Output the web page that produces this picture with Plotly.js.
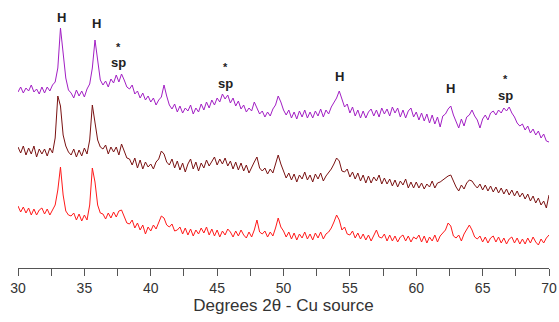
<!DOCTYPE html>
<html>
<head>
<meta charset="utf-8">
<script src="https://cdn.plot.ly/plotly-3.0.1.min.js"></script>
<style>
  html, body { margin: 0; padding: 0; background: #fff; }
  #plot { width: 559px; height: 322px; }
</style>
</head>
<body>
<div id="plot"></div>
<script>
// XRD scans, 30-70 degrees 2theta, 0.2 degree step, stacked with vertical offsets (a.u.)
const scanStart = 30;
const scanStep = 0.2;

const sampleTop = [
  176,181,175,180,177,183,176,179,174,181,
  175,181,177,183,186,200,240,214,190,178,
  175,170,178,172,177,171,179,184,200,228,
  206,188,183,187,181,189,185,193,186,194,
  188,181,179,183,174,177,170,175,168,172,
  166,170,163,168,171,183,172,163,159,164,
  156,162,155,160,157,163,154,160,156,164,
  158,166,160,168,163,170,166,174,169,173,
  165,170,162,167,159,163,156,160,157,166,
  160,154,157,151,156,152,159,163,172,166,
  158,153,158,150,156,149,157,151,158,150,
  156,150,157,152,159,151,158,154,161,165,
  170,177,168,161,164,155,161,152,158,150,
  157,150,156,159,152,158,151,160,154,159,
  152,161,155,160,151,158,150,157,160,151,
  156,148,155,147,154,145,153,144,151,141,
  152,154,159,162,153,146,140,149,142,151,
  153,158,152,148,140,149,153,148,155,157,
  153,158,155,160,157,161,155,151,145,142,
  144,138,142,135,139,133,137,130,134,127,
  126
];

const sampleMiddle = [
  121,115,122,113,120,114,122,111,119,114,
  119,112,120,115,130,172,162,133,122,116,
  113,119,111,118,112,120,114,128,163,145,
  128,121,119,123,114,121,116,121,113,124,
  117,110,109,103,110,100,108,99,106,101,
  104,99,106,109,117,114,106,103,109,100,
  107,98,105,96,104,109,99,106,97,105,
  100,108,102,107,111,103,109,104,110,102,
  107,99,106,98,105,97,103,95,101,106,
  111,100,97,100,94,99,95,105,113,104,
  97,90,95,88,94,86,93,89,96,88,
  93,86,94,89,95,87,92,95,99,104,
  110,107,97,96,99,91,96,89,95,87,
  93,85,92,85,91,87,93,84,90,84,
  89,82,88,81,87,83,89,80,86,80,
  86,80,85,79,84,81,87,80,85,86,
  88,90,92,93,86,81,77,83,79,85,
  88,87,83,80,84,78,83,77,82,76,
  81,75,80,74,79,73,78,72,77,71,
  75,69,74,67,72,65,70,63,67,60,
  73
];

const sampleBottom = [
  62,56,61,55,60,53,59,53,58,60,
  54,59,53,58,63,78,101,73,57,53,
  52,55,48,54,47,53,48,63,100,86,
  63,55,54,49,55,50,56,51,57,58,
  51,45,44,48,40,45,38,43,34,41,
  37,43,39,46,52,50,43,41,44,37,
  38,41,34,40,33,39,32,38,34,40,
  35,41,33,39,32,38,31,37,33,39,
  36,31,37,32,38,33,30,36,31,38,
  48,36,34,37,31,36,32,40,50,41,
  37,31,36,29,35,28,34,30,36,29,
  34,28,35,30,36,29,34,36,40,46,
  53,48,38,41,34,33,37,30,35,29,
  34,28,33,27,32,38,31,30,34,27,
  33,27,32,26,31,33,27,32,26,31,
  29,33,26,32,25,31,27,33,26,32,
  35,38,45,42,32,30,33,27,34,38,
  43,38,31,29,32,26,31,25,30,32,
  26,31,25,30,24,29,31,25,30,24,
  29,24,30,25,31,26,23,29,25,30,
  33
];

const tickValues = [30, 35, 40, 45, 50, 55, 60, 65, 70];
const tickLabels = ["30", "35", "40", "45", "50", "55", "60", "65", "70"];

// phase markers: H = hematite, * sp = spinel
const peakLabels = [
  { x: 33.3,  y: 251, text: "H" },
  { x: 35.95, y: 245, text: "H" },
  { x: 37.55, y: 221, text: "*" },
  { x: 37.55, y: 206, text: "sp" },
  { x: 45.65, y: 201, text: "*" },
  { x: 45.65, y: 185, text: "sp" },
  { x: 54.25, y: 192, text: "H" },
  { x: 62.6,  y: 180, text: "H" },
  { x: 66.75, y: 189, text: "*" },
  { x: 66.75, y: 173, text: "sp" }
];

function scan(values, color) {
  return {
    type: "scatter",
    mode: "lines",
    x0: scanStart,
    dx: scanStep,
    y: values,
    line: { color: color, width: 1 },
    hoverinfo: "skip",
    showlegend: false
  };
}

const data = [
  scan(sampleTop, "#a21fc4"),
  scan(sampleMiddle, "#7a1212"),
  scan(sampleBottom, "#ff1a1a")
];

const layout = {
  width: 559,
  height: 322,
  margin: { l: 18, r: 10, t: 0, b: 54 },
  paper_bgcolor: "#ffffff",
  plot_bgcolor: "#ffffff",
  font: { family: "Liberation Sans, Arial, sans-serif", color: "#333" },
  xaxis: {
    range: [30, 70],
    showgrid: false,
    zeroline: false,
    showline: true,
    linecolor: "#555",
    linewidth: 1,
    ticks: "outside",
    ticklen: 7,
    tickcolor: "#555",
    tickvals: tickValues,
    ticktext: tickLabels,
    tickfont: { size: 14, color: "#333" },
    minor: { dtick: 2.5, ticks: "outside", ticklen: 7, tickcolor: "#555", showgrid: false },
    title: { text: "Degrees 2θ - Cu source", font: { size: 17, color: "#333" }, standoff: 3 }
  },
  yaxis: {
    range: [0, 268],
    visible: false,
    fixedrange: true
  },
  annotations: peakLabels.map(p => ({
    x: p.x,
    y: p.y,
    xref: "x",
    yref: "y",
    text: "<b>" + p.text + "</b>",
    showarrow: false,
    font: { size: p.text === "*" ? 11 : 13, color: "#222" }
  }))
};

Plotly.newPlot("plot", data, layout, { displayModeBar: false, staticPlot: true });
</script>
</body>
</html>
